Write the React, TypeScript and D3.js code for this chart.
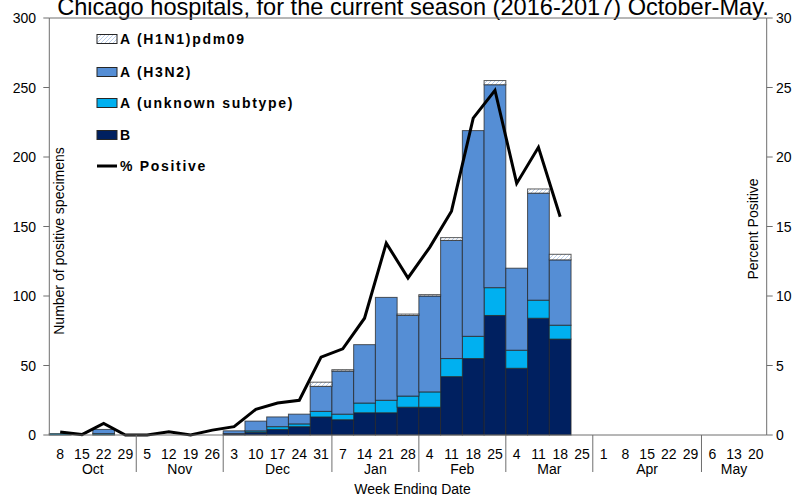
import React from "react";
import * as d3 from "d3";

const weekDays = [8, 15, 22, 29, 5, 12, 19, 26, 3, 10, 17, 24, 31, 7, 14, 21, 28, 4, 11, 18, 25, 4, 11, 18, 25, 1, 8, 15, 22, 29, 6, 13, 20];
const months = ["Oct", "Nov", "Dec", "Jan", "Feb", "Mar", "Apr", "May"];
const weeksPerMonth = [4, 4, 5, 4, 4, 4, 5, 3];

const seriesB = [0, 0, 0, 0, 0, 0, 0, 0, 1, 2, 4, 6, 13, 11, 16, 16, 20, 20, 42, 55, 86, 48, 84, 69];
const seriesUnknown = [1, 0, 1, 0, 0, 0, 0, 0, 0, 1, 2, 2, 4, 4, 7, 9, 8, 11, 13, 16, 20, 13, 13, 10];
const seriesH3N2 = [0, 0, 3, 0, 0, 0, 0, 0, 2, 7, 7, 7, 18, 31, 42, 74, 58, 69, 85, 148, 146, 59, 77, 47];
const seriesH1N1 = [0, 0, 0, 0, 0, 0, 0, 0, 0, 0, 0, 0, 3, 1, 0, 0, 1, 1, 2, 0, 3, 0, 3, 4];
const pctPositive = [0.22, 0.03, 0.84, 0, 0, 0.24, 0, 0.35, 0.6, 1.85, 2.3, 2.5, 5.6, 6.2, 8.4, 13.8, 11.3, 13.5, 16.1, 22.8, 24.8, 18.1, 20.7, 15.7];

const leftTicks = [0, 50, 100, 150, 200, 250, 300];
const rightTicks = [0, 5, 10, 15, 20, 25, 30];

const title = "Chicago hospitals, for the current season (2016-2017) October-May.";

const FONT = "Arial, 'Liberation Sans', sans-serif";
const AXIS = "#6e6e6e";

const seriesKeys = ["b", "unknown", "h3n2", "h1n1"];
const seriesFill: Record<string, string> = {
  b: "#002060",
  unknown: "#00B0F0",
  h3n2: "#558ED5",
  h1n1: "url(#hatch)",
};

export default function App() {
  const left = 49.3, right = 766.7, top = 18, bottom = 435;
  const idx = weekDays.map((_, i) => i);
  const x = d3.scaleBand<number>().domain(idx).range([left, right]).padding(0);
  const y = d3.scaleLinear().domain([0, 300]).range([bottom, top]);
  const yR = d3.scaleLinear().domain([0, 30]).range([bottom, top]);

  const rows = seriesB.map((b, i) => ({
    i,
    b,
    unknown: seriesUnknown[i],
    h3n2: seriesH3N2[i],
    h1n1: seriesH1N1[i],
  }));
  const stacked = d3.stack<any>().keys(seriesKeys)(rows);

  const line = d3
    .line<number>()
    .x((_, i) => (x(i) as number) + x.bandwidth() / 2)
    .y((d) => yR(d));

  const bounds: number[] = [];
  let acc = 0;
  const monthCenters: number[] = [];
  weeksPerMonth.forEach((n, m) => {
    const start = acc;
    acc += n;
    monthCenters.push(((x(start) as number) + (x(acc - 1) as number) + x.bandwidth()) / 2);
    if (m < weeksPerMonth.length - 1) bounds.push(x(acc) as number);
  });

  const legend = [
    { label: "A (H1N1)pdm09", fill: "url(#hatch)", y: 39 },
    { label: "A (H3N2)", fill: "#558ED5", y: 72 },
    { label: "A (unknown subtype)", fill: "#00B0F0", y: 103 },
    { label: "B", fill: "#002060", y: 135 },
  ];

  return (
    <svg
      width={807}
      height={495}
      style={{ position: "absolute", left: 0, top: 0, background: "#fff" }}
      fontFamily={FONT}
    >
      <defs>
        <pattern id="hatch" width={4} height={4} patternUnits="userSpaceOnUse">
          <rect width={4} height={4} fill="#ffffff" />
          <path d="M-1,1 L1,-1 M0,4 L4,0 M3,5 L5,3" stroke="#A9C3E6" strokeWidth={0.8} />
        </pattern>
      </defs>
      <rect width={807} height={495} fill="#fff" />

      <text x={413} y={15} textAnchor="middle" fontSize={23.6} fill="#000">
        {title}
      </text>

      {stacked.map((s) => (
        <g key={s.key}>
          {s.map((d, i) =>
            d[1] - d[0] > 0 ? (
              <rect
                key={i}
                x={x(i)}
                y={y(d[1])}
                width={x.bandwidth()}
                height={y(d[0]) - y(d[1])}
                fill={seriesFill[s.key as string]}
                stroke="#262626"
                strokeOpacity={0.75}
                strokeWidth={1}
              />
            ) : null
          )}
        </g>
      ))}

      <path d={line(pctPositive) || ""} fill="none" stroke="#000" strokeWidth={3} strokeLinejoin="miter" />

      <line x1={left} x2={left} y1={top} y2={bottom} stroke={AXIS} />
      <line x1={right} x2={right} y1={top} y2={bottom} stroke={AXIS} />
      <line x1={left} x2={right} y1={bottom} y2={bottom} stroke={AXIS} />
      <line x1={left} x2={right} y1={top} y2={top} stroke={AXIS} />
      {leftTicks.map((t) => (
        <g key={"l" + t}>
          <line x1={left - 6} x2={left} y1={y(t)} y2={y(t)} stroke={AXIS} />
          <text x={36} y={y(t) + 5} textAnchor="end" fontSize={14}>
            {t}
          </text>
        </g>
      ))}
      {rightTicks.map((t) => (
        <g key={"r" + t}>
          <line x1={right} x2={right + 6} y1={yR(t)} y2={yR(t)} stroke={AXIS} />
          <text x={776} y={yR(t) + 5} textAnchor="start" fontSize={14}>
            {t}
          </text>
        </g>
      ))}

      {weekDays.map((d, i) => (
        <text key={"w" + i} x={(x(i) as number) + x.bandwidth() / 2} y={459} textAnchor="middle" fontSize={14}>
          {d}
        </text>
      ))}
      {bounds.map((b, i) => (
        <line key={"b" + i} x1={b} x2={b} y1={bottom} y2={472} stroke={AXIS} />
      ))}
      {months.map((m, i) => (
        <text key={m} x={monthCenters[i]} y={474} textAnchor="middle" fontSize={14}>
          {m}
        </text>
      ))}
      <text x={412.5} y={494} textAnchor="middle" fontSize={14}>
        Week Ending Date
      </text>

      <text transform="translate(64,241) rotate(-90)" textAnchor="middle" fontSize={14}>
        Number of positive specimens
      </text>
      <text transform="translate(758,229) rotate(-90)" textAnchor="middle" fontSize={14}>
        Percent Positive
      </text>

      {legend.map((l) => (
        <g key={l.label}>
          <rect x={97} y={l.y - 4.5} width={20} height={9} fill={l.fill} stroke="#262626" strokeWidth={1} />
          <text x={120} y={l.y + 5} fontSize={14} fontWeight="bold" letterSpacing={1.7}>
            {l.label}
          </text>
        </g>
      ))}
      <line x1={97} x2={117} y1={166} y2={166} stroke="#000" strokeWidth={3} />
      <text x={120} y={171} fontSize={14} fontWeight="bold" letterSpacing={1.7}>
        % Positive
      </text>
    </svg>
  );
}
